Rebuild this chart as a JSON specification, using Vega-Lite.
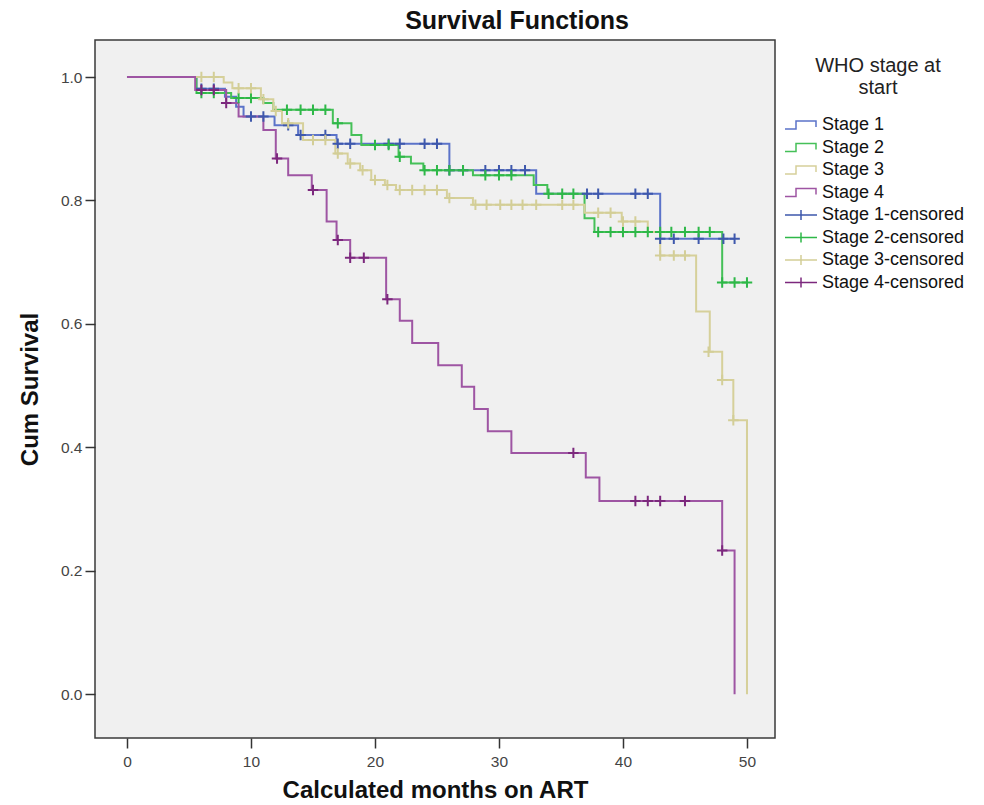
{
  "$schema": "https://vega.github.io/schema/vega-lite/v6.json",
  "width": 680,
  "height": 698,
  "autosize": {"type": "none"},
  "padding": {"left": 95, "top": 40, "right": 209, "bottom": 67},
  "background": "white",
  "config": {
    "font": "Liberation Sans",
    "view": {"fill": "#f0f0f0", "stroke": "#3a3a3a", "strokeWidth": 1.5},
    "axis": {"grid": false, "domain": false, "tickColor": "#333", "tickWidth": 1.5, "tickSize": 10, "labelFontSize": 15.5, "labelColor": "#444", "titleFontSize": 24, "titleFontWeight": "bold", "titleColor": "#111"}
  },
  "title": {"text": "Survival Functions", "fontSize": 25, "fontWeight": "bold", "anchor": "middle", "frame": "group", "dx": 82, "offset": 6, "color": "#111"},
  "datasets": {
    "curves": [
      {"stage": "Stage 1", "month": 0, "survival": 1},
      {"stage": "Stage 1", "month": 5.6, "survival": 0.981},
      {"stage": "Stage 1", "month": 7.9, "survival": 0.968},
      {"stage": "Stage 1", "month": 8.8, "survival": 0.952},
      {"stage": "Stage 1", "month": 9.4, "survival": 0.936},
      {"stage": "Stage 1", "month": 11.9, "survival": 0.922},
      {"stage": "Stage 1", "month": 13.8, "survival": 0.906},
      {"stage": "Stage 1", "month": 16.9, "survival": 0.892},
      {"stage": "Stage 1", "month": 26.0, "survival": 0.849},
      {"stage": "Stage 1", "month": 33.0, "survival": 0.811},
      {"stage": "Stage 1", "month": 43.0, "survival": 0.738},
      {"stage": "Stage 1", "month": 49.0, "survival": 0.738},
      {"stage": "Stage 2", "month": 0, "survival": 1},
      {"stage": "Stage 2", "month": 5.6, "survival": 0.974},
      {"stage": "Stage 2", "month": 8.4, "survival": 0.966},
      {"stage": "Stage 2", "month": 11.0, "survival": 0.958},
      {"stage": "Stage 2", "month": 11.8, "survival": 0.947},
      {"stage": "Stage 2", "month": 16.6, "survival": 0.925},
      {"stage": "Stage 2", "month": 18.1, "survival": 0.906},
      {"stage": "Stage 2", "month": 18.9, "survival": 0.89},
      {"stage": "Stage 2", "month": 21.9, "survival": 0.871},
      {"stage": "Stage 2", "month": 22.9, "survival": 0.86},
      {"stage": "Stage 2", "month": 23.9, "survival": 0.849},
      {"stage": "Stage 2", "month": 27.9, "survival": 0.841},
      {"stage": "Stage 2", "month": 32.8, "survival": 0.825},
      {"stage": "Stage 2", "month": 33.9, "survival": 0.811},
      {"stage": "Stage 2", "month": 36.9, "survival": 0.771},
      {"stage": "Stage 2", "month": 37.7, "survival": 0.749},
      {"stage": "Stage 2", "month": 48.0, "survival": 0.667},
      {"stage": "Stage 2", "month": 50.0, "survival": 0.667},
      {"stage": "Stage 3", "month": 0, "survival": 1},
      {"stage": "Stage 3", "month": 7.8, "survival": 0.991},
      {"stage": "Stage 3", "month": 8.5, "survival": 0.982},
      {"stage": "Stage 3", "month": 10.8, "survival": 0.964},
      {"stage": "Stage 3", "month": 11.8, "survival": 0.945},
      {"stage": "Stage 3", "month": 12.5, "survival": 0.925},
      {"stage": "Stage 3", "month": 14.2, "survival": 0.898},
      {"stage": "Stage 3", "month": 16.8, "survival": 0.876},
      {"stage": "Stage 3", "month": 17.8, "survival": 0.86},
      {"stage": "Stage 3", "month": 18.8, "survival": 0.849},
      {"stage": "Stage 3", "month": 19.7, "survival": 0.833},
      {"stage": "Stage 3", "month": 20.8, "survival": 0.825},
      {"stage": "Stage 3", "month": 21.7, "survival": 0.817},
      {"stage": "Stage 3", "month": 25.8, "survival": 0.804},
      {"stage": "Stage 3", "month": 27.9, "survival": 0.793},
      {"stage": "Stage 3", "month": 36.9, "survival": 0.78},
      {"stage": "Stage 3", "month": 39.9, "survival": 0.766},
      {"stage": "Stage 3", "month": 42.0, "survival": 0.749},
      {"stage": "Stage 3", "month": 43.0, "survival": 0.711},
      {"stage": "Stage 3", "month": 45.9, "survival": 0.62},
      {"stage": "Stage 3", "month": 47.0, "survival": 0.555},
      {"stage": "Stage 3", "month": 48.0, "survival": 0.509},
      {"stage": "Stage 3", "month": 48.9, "survival": 0.444},
      {"stage": "Stage 3", "month": 50.0, "survival": 0},
      {"stage": "Stage 4", "month": 0, "survival": 1},
      {"stage": "Stage 4", "month": 5.5, "survival": 0.979},
      {"stage": "Stage 4", "month": 8.0, "survival": 0.958},
      {"stage": "Stage 4", "month": 9.0, "survival": 0.936},
      {"stage": "Stage 4", "month": 11.0, "survival": 0.914},
      {"stage": "Stage 4", "month": 12.0, "survival": 0.868},
      {"stage": "Stage 4", "month": 13.0, "survival": 0.841},
      {"stage": "Stage 4", "month": 14.9, "survival": 0.817},
      {"stage": "Stage 4", "month": 16.1, "survival": 0.766},
      {"stage": "Stage 4", "month": 16.9, "survival": 0.736},
      {"stage": "Stage 4", "month": 18.0, "survival": 0.707},
      {"stage": "Stage 4", "month": 20.9, "survival": 0.64},
      {"stage": "Stage 4", "month": 22.0, "survival": 0.605},
      {"stage": "Stage 4", "month": 23.0, "survival": 0.569},
      {"stage": "Stage 4", "month": 25.1, "survival": 0.533},
      {"stage": "Stage 4", "month": 27.0, "survival": 0.498},
      {"stage": "Stage 4", "month": 28.0, "survival": 0.462},
      {"stage": "Stage 4", "month": 29.1, "survival": 0.426},
      {"stage": "Stage 4", "month": 31.0, "survival": 0.391},
      {"stage": "Stage 4", "month": 37.0, "survival": 0.351},
      {"stage": "Stage 4", "month": 38.1, "survival": 0.313},
      {"stage": "Stage 4", "month": 48.0, "survival": 0.233},
      {"stage": "Stage 4", "month": 49.0, "survival": 0}
    ],
    "censored": [
      {"stage": "Stage 1-censored", "month": 6.0, "survival": 0.981},
      {"stage": "Stage 1-censored", "month": 7.0, "survival": 0.981},
      {"stage": "Stage 1-censored", "month": 10.0, "survival": 0.936},
      {"stage": "Stage 1-censored", "month": 11.0, "survival": 0.936},
      {"stage": "Stage 1-censored", "month": 13.0, "survival": 0.922},
      {"stage": "Stage 1-censored", "month": 14.0, "survival": 0.906},
      {"stage": "Stage 1-censored", "month": 16.0, "survival": 0.906},
      {"stage": "Stage 1-censored", "month": 17.0, "survival": 0.892},
      {"stage": "Stage 1-censored", "month": 18.0, "survival": 0.892},
      {"stage": "Stage 1-censored", "month": 21.1, "survival": 0.892},
      {"stage": "Stage 1-censored", "month": 22.0, "survival": 0.892},
      {"stage": "Stage 1-censored", "month": 24.0, "survival": 0.892},
      {"stage": "Stage 1-censored", "month": 25.0, "survival": 0.892},
      {"stage": "Stage 1-censored", "month": 26.0, "survival": 0.849},
      {"stage": "Stage 1-censored", "month": 27.1, "survival": 0.849},
      {"stage": "Stage 1-censored", "month": 28.9, "survival": 0.849},
      {"stage": "Stage 1-censored", "month": 30.0, "survival": 0.849},
      {"stage": "Stage 1-censored", "month": 31.0, "survival": 0.849},
      {"stage": "Stage 1-censored", "month": 32.1, "survival": 0.849},
      {"stage": "Stage 1-censored", "month": 37.1, "survival": 0.811},
      {"stage": "Stage 1-censored", "month": 38.0, "survival": 0.811},
      {"stage": "Stage 1-censored", "month": 41.0, "survival": 0.811},
      {"stage": "Stage 1-censored", "month": 42.0, "survival": 0.811},
      {"stage": "Stage 1-censored", "month": 43.0, "survival": 0.738},
      {"stage": "Stage 1-censored", "month": 44.1, "survival": 0.738},
      {"stage": "Stage 1-censored", "month": 46.1, "survival": 0.738},
      {"stage": "Stage 1-censored", "month": 48.1, "survival": 0.738},
      {"stage": "Stage 1-censored", "month": 49.0, "survival": 0.738},
      {"stage": "Stage 2-censored", "month": 6.0, "survival": 0.974},
      {"stage": "Stage 2-censored", "month": 7.0, "survival": 0.974},
      {"stage": "Stage 2-censored", "month": 9.0, "survival": 0.966},
      {"stage": "Stage 2-censored", "month": 10.0, "survival": 0.966},
      {"stage": "Stage 2-censored", "month": 12.9, "survival": 0.947},
      {"stage": "Stage 2-censored", "month": 14.0, "survival": 0.947},
      {"stage": "Stage 2-censored", "month": 15.0, "survival": 0.947},
      {"stage": "Stage 2-censored", "month": 16.0, "survival": 0.947},
      {"stage": "Stage 2-censored", "month": 17.0, "survival": 0.925},
      {"stage": "Stage 2-censored", "month": 20.0, "survival": 0.89},
      {"stage": "Stage 2-censored", "month": 21.1, "survival": 0.89},
      {"stage": "Stage 2-censored", "month": 22.0, "survival": 0.871},
      {"stage": "Stage 2-censored", "month": 24.0, "survival": 0.849},
      {"stage": "Stage 2-censored", "month": 25.0, "survival": 0.849},
      {"stage": "Stage 2-censored", "month": 26.0, "survival": 0.849},
      {"stage": "Stage 2-censored", "month": 27.1, "survival": 0.849},
      {"stage": "Stage 2-censored", "month": 28.9, "survival": 0.841},
      {"stage": "Stage 2-censored", "month": 30.0, "survival": 0.841},
      {"stage": "Stage 2-censored", "month": 31.0, "survival": 0.841},
      {"stage": "Stage 2-censored", "month": 34.0, "survival": 0.811},
      {"stage": "Stage 2-censored", "month": 35.1, "survival": 0.811},
      {"stage": "Stage 2-censored", "month": 36.0, "survival": 0.811},
      {"stage": "Stage 2-censored", "month": 38.0, "survival": 0.749},
      {"stage": "Stage 2-censored", "month": 39.0, "survival": 0.749},
      {"stage": "Stage 2-censored", "month": 40.0, "survival": 0.749},
      {"stage": "Stage 2-censored", "month": 41.0, "survival": 0.749},
      {"stage": "Stage 2-censored", "month": 42.0, "survival": 0.749},
      {"stage": "Stage 2-censored", "month": 43.0, "survival": 0.749},
      {"stage": "Stage 2-censored", "month": 43.9, "survival": 0.749},
      {"stage": "Stage 2-censored", "month": 45.0, "survival": 0.749},
      {"stage": "Stage 2-censored", "month": 46.1, "survival": 0.749},
      {"stage": "Stage 2-censored", "month": 47.0, "survival": 0.749},
      {"stage": "Stage 2-censored", "month": 48.0, "survival": 0.667},
      {"stage": "Stage 2-censored", "month": 49.0, "survival": 0.667},
      {"stage": "Stage 2-censored", "month": 50.0, "survival": 0.667},
      {"stage": "Stage 3-censored", "month": 6.0, "survival": 1.0},
      {"stage": "Stage 3-censored", "month": 7.0, "survival": 1.0},
      {"stage": "Stage 3-censored", "month": 9.0, "survival": 0.982},
      {"stage": "Stage 3-censored", "month": 10.0, "survival": 0.982},
      {"stage": "Stage 3-censored", "month": 11.0, "survival": 0.964},
      {"stage": "Stage 3-censored", "month": 12.0, "survival": 0.945},
      {"stage": "Stage 3-censored", "month": 13.0, "survival": 0.925},
      {"stage": "Stage 3-censored", "month": 15.0, "survival": 0.898},
      {"stage": "Stage 3-censored", "month": 16.0, "survival": 0.898},
      {"stage": "Stage 3-censored", "month": 17.0, "survival": 0.876},
      {"stage": "Stage 3-censored", "month": 18.0, "survival": 0.86},
      {"stage": "Stage 3-censored", "month": 19.0, "survival": 0.849},
      {"stage": "Stage 3-censored", "month": 20.0, "survival": 0.833},
      {"stage": "Stage 3-censored", "month": 21.0, "survival": 0.825},
      {"stage": "Stage 3-censored", "month": 22.0, "survival": 0.817},
      {"stage": "Stage 3-censored", "month": 23.0, "survival": 0.817},
      {"stage": "Stage 3-censored", "month": 24.0, "survival": 0.817},
      {"stage": "Stage 3-censored", "month": 25.0, "survival": 0.817},
      {"stage": "Stage 3-censored", "month": 26.0, "survival": 0.804},
      {"stage": "Stage 3-censored", "month": 28.1, "survival": 0.793},
      {"stage": "Stage 3-censored", "month": 29.0, "survival": 0.793},
      {"stage": "Stage 3-censored", "month": 30.1, "survival": 0.793},
      {"stage": "Stage 3-censored", "month": 31.0, "survival": 0.793},
      {"stage": "Stage 3-censored", "month": 31.9, "survival": 0.793},
      {"stage": "Stage 3-censored", "month": 33.0, "survival": 0.793},
      {"stage": "Stage 3-censored", "month": 35.1, "survival": 0.793},
      {"stage": "Stage 3-censored", "month": 36.0, "survival": 0.793},
      {"stage": "Stage 3-censored", "month": 38.0, "survival": 0.78},
      {"stage": "Stage 3-censored", "month": 39.0, "survival": 0.78},
      {"stage": "Stage 3-censored", "month": 40.0, "survival": 0.766},
      {"stage": "Stage 3-censored", "month": 41.0, "survival": 0.766},
      {"stage": "Stage 3-censored", "month": 43.0, "survival": 0.711},
      {"stage": "Stage 3-censored", "month": 44.1, "survival": 0.711},
      {"stage": "Stage 3-censored", "month": 45.0, "survival": 0.711},
      {"stage": "Stage 3-censored", "month": 46.9, "survival": 0.555},
      {"stage": "Stage 3-censored", "month": 48.0, "survival": 0.509},
      {"stage": "Stage 3-censored", "month": 48.9, "survival": 0.444},
      {"stage": "Stage 4-censored", "month": 6.0, "survival": 0.979},
      {"stage": "Stage 4-censored", "month": 7.0, "survival": 0.979},
      {"stage": "Stage 4-censored", "month": 8.0, "survival": 0.958},
      {"stage": "Stage 4-censored", "month": 12.1, "survival": 0.868},
      {"stage": "Stage 4-censored", "month": 15.0, "survival": 0.817},
      {"stage": "Stage 4-censored", "month": 17.0, "survival": 0.736},
      {"stage": "Stage 4-censored", "month": 18.0, "survival": 0.707},
      {"stage": "Stage 4-censored", "month": 19.1, "survival": 0.707},
      {"stage": "Stage 4-censored", "month": 21.0, "survival": 0.64},
      {"stage": "Stage 4-censored", "month": 36.0, "survival": 0.391},
      {"stage": "Stage 4-censored", "month": 41.0, "survival": 0.313},
      {"stage": "Stage 4-censored", "month": 42.0, "survival": 0.313},
      {"stage": "Stage 4-censored", "month": 43.0, "survival": 0.313},
      {"stage": "Stage 4-censored", "month": 45.0, "survival": 0.313},
      {"stage": "Stage 4-censored", "month": 48.0, "survival": 0.233}
    ]
  },
  "encoding": {
    "x": {"field": "month", "type": "quantitative", "scale": {"domain": [-2.58, 52.26], "nice": false, "zero": false}, "axis": {"values": [0, 10, 20, 30, 40, 50], "title": "Calculated months on ART", "labelPadding": 6, "titleX": 340, "titleY": 52, "titleBaseline": "middle"}},
    "y": {"field": "survival", "type": "quantitative", "scale": {"domain": [-0.071, 1.06], "nice": false, "zero": false}, "axis": {"values": [0, 0.2, 0.4, 0.6, 0.8, 1.0], "format": ".1f", "title": "Cum Survival", "labelPadding": 3, "titleX": -65, "titleY": 349, "titleBaseline": "middle", "titleAngle": -90}},
    "color": {
      "field": "stage", "type": "nominal",
      "scale": {
        "domain": ["Stage 1", "Stage 2", "Stage 3", "Stage 4", "Stage 1-censored", "Stage 2-censored", "Stage 3-censored", "Stage 4-censored"],
        "range": ["#5b73c9", "#45c058", "#d6d09a", "#9e55a3", "#3e58ac", "#2eb848", "#d3ce97", "#7c287d"]
      },
      "legend": {
        "orient": "none", "legendX": 697, "legendY": 16, "padding": 0,
        "title": ["WHO stage at", "start"], "titleFontSize": 20, "titleFontWeight": "normal", "titleColor": "#222", "titleAnchor": "middle", "titleAlign": "center", "titleLineHeight": 22, "titlePadding": 18,
        "labelFontSize": 18, "labelColor": "#111", "labelOffset": 12, "symbolSize": 100, "rowPadding": 4.5,
        "encode": {
          "symbols": {
            "update": {
              "shape": {"signal": "indexof(datum.label, 'censored') >= 0 ? 'M-3.2,0L3.2,0M0,-1L0,1' : 'M-3.2,0.8L-1,0.8L-1,-0.8L3,-0.8L3,0.4'"},
              "fill": {"value": "transparent"},
              "stroke": {"scale": "color", "field": "value"},
              "strokeWidth": {"value": 1.5},
              "opacity": {"value": 1}
            }
          }
        }
      }
    }
  },
  "layer": [
    {"data": {"name": "curves"}, "mark": {"type": "line", "interpolate": "step-after", "strokeWidth": 2}},
    {"data": {"name": "censored"}, "mark": {"type": "point", "shape": "M-1,0L1,0M0,-1L0,1", "size": 110, "filled": false, "strokeWidth": 2, "opacity": 1}}
  ]
}
